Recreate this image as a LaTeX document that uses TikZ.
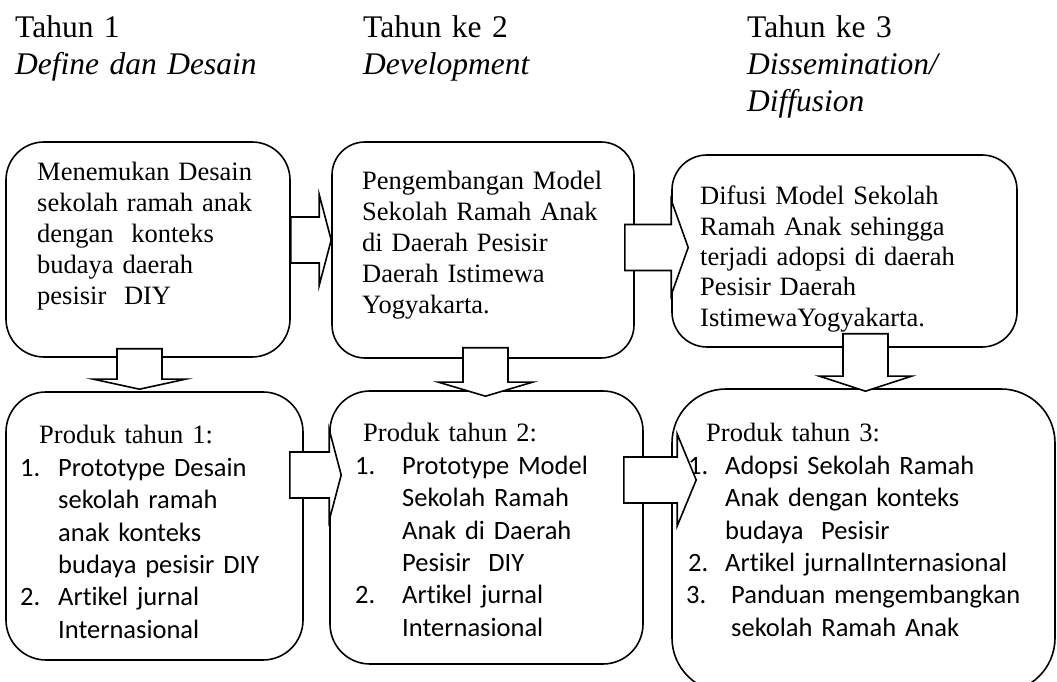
\documentclass[tikz,border=0pt]{standalone}
\usepackage{fontspec}
\setmainfont{Liberation Serif}
\newfontfamily\listfont[Ligatures=NoCommon]{Carlito}
\usetikzlibrary{calc}

\newcommand{\rightblock}[7]{%
  \draw[blockarrow] let \p1=(#1), \p2=(#3) in
    (\x1+#2,#5+23) -- (\x2+#4-#6,#5+23) -- (\x2+#4-#6,#5+#7) -- (\x2+#4,#5)
    -- (\x2+#4-#6,#5-#7) -- (\x2+#4-#6,#5-23) -- (\x1+#2,#5-23) -- cycle;}
\newcommand{\downblock}[7]{%
  \draw[blockarrow] let \p1=(#1), \p2=(#3) in
    (#5-22.5,\y1+#2) -- (#5-22.5,\y2+#4+#6) -- (#5-#7,\y2+#4+#6) -- (#5,\y2+#4)
    -- (#5+#7,\y2+#4+#6) -- (#5+22.5,\y2+#4+#6) -- (#5+22.5,\y1+#2) -- cycle;}

\begin{document}
\begin{tikzpicture}[x=1pt,y=1pt]
   \tikzstyle{box}=[draw, line width=1.6pt, rounded corners=38pt, inner sep=0pt]
   \tikzstyle{head}=[anchor=base west, inner sep=0pt, text width=320pt, align=left, font=\fontsize{31.5}{37}\selectfont]
   \tikzstyle{txt}=[anchor=base west, inner sep=0pt, text width=330pt, align=left, font=\fontsize{26.5}{31}\selectfont]
   \tikzstyle{list}=[txt, text width=360pt, font=\listfont\fontsize{26.5}{32.4}\selectfont]
   \tikzstyle{blockarrow}=[draw, fill=white, line width=1.6pt, line join=miter]

\useasboundingbox (0,0) rectangle (1057,682);
\clip (0,0) rectangle (1057,682);

\node[head] (h1) at (15,644) {Tahun 1\\\textit{Define dan Desain}};
\node[head] (h2) at (363,644) {Tahun ke 2\\\textit{Development}};
\node[head] (h3) at (747,644) {Tahun ke 3\\\textit{Dissemination/}\\\textit{Diffusion}};

\node[box, minimum width=284pt, minimum height=215pt] (b1) at (148,432.5) {};
\node[box, minimum width=302pt, minimum height=216pt, rounded corners=33pt] (b2) at (483,432) {};
\node[box, minimum width=345pt, minimum height=192pt, rounded corners=35pt] (b3) at (844.5,431) {};
\node[box, minimum width=297pt, minimum height=268pt, rounded corners=40pt] (b4) at (154.5,156) {};
\node[box, minimum width=313pt, minimum height=273pt, rounded corners=40pt] (b5) at (486.5,154.5) {};
\node[box, minimum width=383pt, minimum height=303pt, rounded corners=54pt] (b6) at (863.5,141.5) {};

\node[txt] (t1) at (37,501) {Menemukan Desain\\ sekolah ramah anak\\ dengan\ \ konteks\\ budaya daerah\\ pesisir\ \ DIY};
\node[txt] (t2) at (362,492) {Pengembangan Model\\ Sekolah Ramah Anak\\ di Daerah Pesisir\\ Daerah Istimewa\\ Yogyakarta.};
\node[txt, font=\fontsize{26.5}{30.3}\selectfont] (t3) at (700,477) {Difusi Model Sekolah\\ Ramah Anak sehingga\\ terjadi adopsi di daerah\\ Pesisir Daerah\\ IstimewaYogyakarta.};

\node[list] (t4) at (20,238) {\hspace*{19pt}{\rmfamily Produk tahun 1:}\\
  \makebox[38pt][l]{1.}Prototype Desain\\ \hspace*{38pt}sekolah ramah\\ \hspace*{38pt}anak konteks\\ \hspace*{38pt}budaya pesisir DIY\\
  \makebox[38pt][l]{2.}Artikel jurnal\\ \hspace*{38pt}Internasional};
\node[list] (t5) at (355,240) {\hspace*{8pt}{\rmfamily Produk tahun 2:}\\
  \makebox[47pt][l]{1.}Prototype Model\\ \hspace*{47pt}Sekolah Ramah\\ \hspace*{47pt}Anak di Daerah\\ \hspace*{47pt}Pesisir\ \ DIY\\
  \makebox[47pt][l]{2.}Artikel jurnal\\ \hspace*{47pt}Internasional};
\node[list] (t6) at (688,240) {\hspace*{18pt}{\rmfamily Produk tahun 3:}\\
  \makebox[37pt][l]{1.}Adopsi Sekolah Ramah\\ \hspace*{37pt}Anak dengan konteks\\ \hspace*{37pt}budaya\ \ Pesisir\\
  \makebox[37pt][l]{2.}Artikel jurnalInternasional\\
  \hspace*{-2pt}\makebox[45pt][l]{3.}Panduan mengembangkan\\ \hspace*{43pt}sekolah Ramah Anak};

\rightblock{b1.east}{0}{b2.west}{0}{442}{12}{45.5}
\rightblock{b2.east}{-10}{b3.west}{17}{434.5}{17}{47.5}
\rightblock{b4.east}{-14}{b5.west}{12}{207}{12}{45.5}
\rightblock{b5.east}{-20}{b6.west}{25}{202}{19}{46}
\downblock{b1.south}{9}{b4.north}{2}{139.5}{10}{46}
\downblock{b2.south}{11}{b5.north}{-6}{485.5}{14}{47}
\downblock{b3.south}{14}{b6.north}{-3}{865.5}{15}{46}

\end{tikzpicture}
\end{document}
